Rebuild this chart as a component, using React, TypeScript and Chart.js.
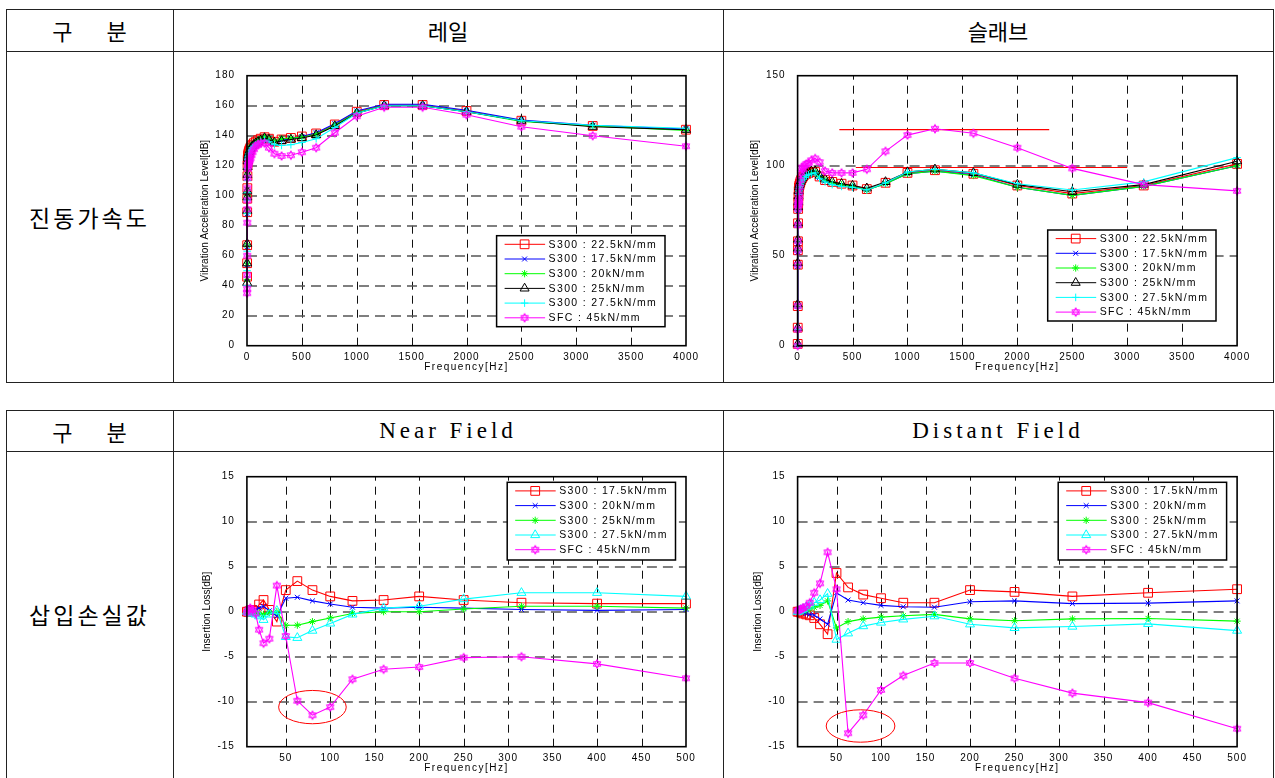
import React, { useEffect, useRef } from 'react';
import { Chart, registerables } from 'chart.js';

Chart.register(...registerables);

// ---------------- data ----------------
const freqTop = [1, 1.25, 1.6, 2, 2.5, 3.15, 4, 5, 6.3, 8, 10, 12.5, 16, 20, 25, 31.5, 40, 50, 63, 80, 100, 125, 160, 200, 250, 315, 400, 500, 630, 800, 1000, 1250, 1600, 2000, 2500, 3150, 4000];

const topLabels = ['S300 : 22.5kN/mm', 'S300 : 17.5kN/mm', 'S300 : 20kN/mm', 'S300 : 25kN/mm', 'S300 : 27.5kN/mm', 'SFC : 45kN/mm'];

// 레일 (rail) vibration acceleration level [dB]
const railS300_225 = [46, 55, 67, 89, 98, 105, 113, 120, 124, 126, 127, 128, 129, 130, 131, 132, 133, 134, 135, 136, 137, 138, 139, 138, 136, 137.5, 138.5, 139.5, 141.5, 147.5, 156, 160.5, 160.5, 156.5, 150, 146.5, 144];
const railS300_175 = [45, 54, 66, 88, 99, 104, 112, 121, 125, 126, 127, 128, 129, 130, 131, 132, 133, 134, 135, 136, 137, 138, 139, 138, 136, 137, 138, 139.5, 142, 148, 156.5, 161, 161, 157, 150.5, 147, 144.5];
const railS300_20 = [44, 55, 67, 90, 100, 104, 114, 120, 124, 126, 127, 128, 129, 130, 131, 132, 133, 134, 135, 136, 137, 138, 139, 138, 136, 138, 138.5, 139, 141, 147, 155.5, 160, 160, 156, 149.5, 146.5, 143.5];
const railS300_25 = [42, 55, 68, 90, 99, 103, 114, 119, 123, 125, 126, 127, 128, 129, 130, 131, 132, 133, 134, 135, 136, 137, 138.5, 137.5, 135.5, 136.5, 137.5, 138.5, 140.5, 146.5, 155, 160, 160, 156, 150, 146, 144];
const railS300_275 = [40, 50, 63, 88, 97, 102, 110, 118, 122, 124, 125, 126, 127, 128, 129, 130, 131, 132, 133, 134, 135, 136, 137, 136, 134, 133.5, 134, 135.5, 138, 145.5, 155, 160, 160, 156, 150, 147, 145];
const railSFC_45 = [35, 38, 47, 60, 82, 91, 97, 105, 112, 118, 120, 121, 122, 123, 124, 125, 127, 129, 131, 133, 134, 135, 135, 132, 128, 126.5, 127, 129, 132, 142, 153, 159, 159, 154, 146, 140, 133];

// 슬래브 (slab) vibration acceleration level [dB]
const slabS300_225 = [1, 10, 22, 45, 53, 58, 68, 76, 80, 83, 86, 88, 89, 90, 91, 92, 93, 94, 95, 95.5, 96, 96.5, 96.5, 94, 92, 91, 90, 89, 87, 90.5, 96, 97.5, 95.5, 89, 84.5, 89, 101];
const slabS300_175 = [0.5, 9, 22, 44, 52, 57, 67, 75, 79, 82, 85, 87, 88, 89, 90, 91, 92, 93, 94, 95, 95.5, 96, 96, 93.5, 91.5, 90.5, 89.5, 88.5, 86.5, 90, 95.5, 97, 95, 88, 83.5, 88.5, 100];
const slabS300_20 = [0.5, 9, 22, 45, 53, 58, 67, 76, 80, 82, 85, 87, 88, 89, 90, 91, 92, 93, 94, 95, 95.5, 96, 96.5, 94, 92, 90.5, 89.5, 88.5, 86.5, 90, 95.5, 97, 94.5, 88, 83.5, 88.5, 100];
const slabS300_25 = [1, 10, 23, 46, 54, 59, 68, 77, 80, 83, 86, 88, 89, 90, 91, 92, 93, 94, 95, 96, 96.5, 97, 97, 94.5, 92.5, 91, 90, 89, 87.5, 91, 96.5, 98, 96, 89.5, 85.5, 89.5, 102.5];
const slabS300_275 = [0.5, 9, 21, 44, 52, 57, 66, 75, 78, 81, 84, 86, 87.5, 88.5, 89.5, 90.5, 91.5, 92.5, 93.5, 94.5, 95, 95.5, 96, 93, 91, 89.5, 88.5, 88, 86.5, 90.5, 96.5, 98, 96, 90, 86.5, 91, 104.5];
const slabSFC_45 = [0, 9, 22, 45, 53, 58, 67, 76, 78, 79, 80, 81, 84, 88, 92, 96, 99, 98, 100, 101, 101.5, 103, 104, 102, 97, 96, 96, 96, 98, 108, 117, 120.5, 118, 110, 98.5, 89.5, 86];

// red reference lines on the slab chart: [x1, x2] at level y
const slabRefLineHighX = [380, 2290];
const slabRefLineHighY = 120;
const slabRefLineLowX = [530, 3000];
const slabRefLineLowY = 99;

const freqBot = [6.3, 8, 10, 12.5, 16, 20, 25, 31.5, 40, 50, 63, 80, 100, 125, 160, 200, 250, 315, 400, 500];
const botLabels = ['S300 : 17.5kN/mm', 'S300 : 20kN/mm', 'S300 : 25kN/mm', 'S300 : 27.5kN/mm', 'SFC : 45kN/mm'];

// Near Field insertion loss [dB]
const nearS300_175 = [0, 0, 0.1, 0.2, 0.1, 0.8, 1.3, 0.2, -1.1, 2.4, 3.4, 2.4, 1.7, 1.2, 1.3, 1.7, 1.3, 1.0, 0.9, 0.9];
const nearS300_20 = [0, 0, 0.1, 0.1, 0.2, 0.4, 0.6, 0.1, -0.5, 1.5, 1.6, 1.2, 0.85, 0.5, 0.4, 0.5, 0.4, 0.25, 0.15, 0.25];
const nearS300_25 = [0, 0, 0, -0.1, -0.1, -0.2, -0.3, -0.1, 0, -1.5, -1.5, -1.1, -0.7, -0.2, 0, 0, 0.3, 0.6, 0.6, 0.4];
const nearS300_275 = [0, -0.1, -0.1, -0.2, -0.3, -0.5, -0.9, -0.3, 0.1, -2.8, -2.9, -2.1, -1.3, -0.3, 0.4, 0.6, 1.4, 2.1, 2.1, 1.7];
const nearSFC_45 = [-0.1, 0.2, 0.4, 0.2, -0.2, -2.0, -3.5, -3.0, 2.9, -2.7, -9.9, -11.5, -10.6, -7.5, -6.4, -6.15, -5.1, -5.0, -5.8, -7.4];
const nearCircle = { x: 80, y: -10.6, rx: 38, ry: 1.85 };

// Distant Field insertion loss [dB]
const farS300_175 = [0, 0, -0.1, -0.2, -0.3, -0.4, -0.7, -1.4, -2.5, 4.3, 2.7, 1.9, 1.5, 1.0, 1.0, 2.4, 2.2, 1.7, 2.1, 2.5];
const farS300_20 = [0, 0, -0.05, -0.1, -0.2, -0.3, -0.4, -0.8, -1.4, 2.1, 1.3, 1.0, 0.7, 0.55, 0.5, 1.1, 1.2, 0.9, 0.95, 1.2];
const farS300_25 = [0, 0, 0.05, 0.1, 0.2, 0.3, 0.5, 0.7, 1.2, -1.8, -1.1, -0.8, -0.6, -0.45, -0.3, -0.8, -1.0, -0.8, -0.75, -1.05];
const farS300_275 = [0, 0.1, 0.2, 0.3, 0.5, 0.7, 1.0, 1.3, 2.0, -3.1, -2.4, -1.6, -1.2, -0.85, -0.5, -1.4, -1.8, -1.65, -1.35, -2.1];
const farSFC_45 = [0.1, 0.2, 0.3, 0.4, 0.6, 1.0, 2.1, 3.15, 6.6, 2.5, -13.5, -11.5, -8.7, -7.1, -5.7, -5.7, -7.4, -9.05, -10.1, -13.0];
const farCircle = { x: 77, y: -12.7, rx: 38.6, ry: 1.8 };

const xTicksTop = [0, 500, 1000, 1500, 2000, 2500, 3000, 3500, 4000];
const yTicksRail = [0, 20, 40, 60, 80, 100, 120, 140, 160, 180];
const yTicksSlab = [0, 50, 100, 150];
const xTicksBot = [50, 100, 150, 200, 250, 300, 350, 400, 450, 500];
const yTicksBot = [-15, -10, -5, 0, 5, 10, 15];

// ---------------- styles ----------------
const FONT = '"Liberation Sans", Arial, sans-serif';
const RED = '#ff0000', BLUE = '#0000ff', GREEN = '#00ff00', BLACK = '#000000', CYAN = '#00ffff', MAGENTA = '#ff00ff';
const topStyles = [
  { color: RED, marker: 'rect' },
  { color: BLUE, marker: 'crossRot' },
  { color: GREEN, marker: 'star' },
  { color: BLACK, marker: 'triangle' },
  { color: CYAN, marker: 'cross' },
  { color: MAGENTA, marker: 'hex' },
];
const botStyles = [
  { color: RED, marker: 'rect' },
  { color: BLUE, marker: 'crossRot' },
  { color: GREEN, marker: 'star' },
  { color: CYAN, marker: 'triangle' },
  { color: MAGENTA, marker: 'hex' },
];
const markerRadius: Record<string, number> = { rect: 6.2, triangle: 5.2, crossRot: 3.5, cross: 3.8, star: 3.6, hex: 4.4 };

function makeHex(color: string, r: number) {
  const c = document.createElement('canvas');
  const s = Math.ceil(r * 2 + 3);
  c.width = s;
  c.height = s;
  const g = c.getContext('2d')!;
  g.strokeStyle = color;
  g.lineWidth = 1;
  const cx = s / 2, cy = s / 2;
  for (const off of [-90, 90]) {
    g.beginPath();
    for (let k = 0; k < 3; k++) {
      const a = ((off + k * 120) * Math.PI) / 180;
      const x = cx + r * Math.cos(a), y = cy + r * Math.sin(a);
      if (k) g.lineTo(x, y); else g.moveTo(x, y);
    }
    g.closePath();
    g.stroke();
  }
  return c;
}

function drawMarker(ctx: CanvasRenderingContext2D, m: string, x: number, y: number, color: string, hex: HTMLCanvasElement) {
  ctx.save();
  ctx.strokeStyle = color;
  ctx.lineWidth = 1;
  ctx.setLineDash([]);
  if (m === 'hex') {
    ctx.drawImage(hex, x - hex.width / 2, y - hex.height / 2);
    ctx.restore();
    return;
  }
  const r = markerRadius[m];
  ctx.beginPath();
  if (m === 'rect') {
    const h = r * Math.SQRT1_2;
    ctx.rect(x - h, y - h, 2 * h, 2 * h);
  } else if (m === 'triangle') {
    let rad = 0;
    for (let k = 0; k < 3; k++) {
      const px = x + Math.sin(rad) * r, py = y - Math.cos(rad) * r;
      if (k) ctx.lineTo(px, py); else ctx.moveTo(px, py);
      rad += (2 * Math.PI) / 3;
    }
    ctx.closePath();
  } else {
    const cross = () => { ctx.moveTo(x - r, y); ctx.lineTo(x + r, y); ctx.moveTo(x, y - r); ctx.lineTo(x, y + r); };
    const crossRot = () => { const d = r * Math.SQRT1_2; ctx.moveTo(x - d, y - d); ctx.lineTo(x + d, y + d); ctx.moveTo(x + d, y - d); ctx.lineTo(x - d, y + d); };
    if (m === 'cross') cross();
    if (m === 'crossRot') crossRot();
    if (m === 'star') { cross(); crossRot(); }
  }
  ctx.stroke();
  ctx.restore();
}

type Spec = {
  freqs: number[];
  series: number[][];
  labels: string[];
  styles: { color: string; marker: string }[];
  xMin: number; xMax: number; xTicks: number[];
  yMin: number; yMax: number; yTicks: number[];
  pad: { top: number; right: number };
  yAxisW: number; xAxisH: number;
  legend: { x: number; y: number; w: number; h: number };
  yTitle: string; yTitleOff: number;
  circle?: { x: number; y: number; rx: number; ry: number };
  refLines?: { xs: number[]; y: number }[];
};

function buildConfig(spec: Spec): any {
  const hex = makeHex(MAGENTA, 4.4);
  const n = spec.series.length;
  const datasets: any[] = spec.series.map((vals, i) => {
    const st = spec.styles[i];
    return {
      label: spec.labels[i],
      data: spec.freqs.map((f, k) => ({ x: f, y: vals[k] })),
      borderColor: st.color,
      backgroundColor: 'rgba(0,0,0,0)',
      borderWidth: 1.1,
      pointStyle: st.marker === 'hex' ? hex : st.marker,
      pointRadius: markerRadius[st.marker],
      pointHoverRadius: markerRadius[st.marker],
      pointBorderColor: st.color,
      pointBackgroundColor: 'rgba(0,0,0,0)',
      pointBorderWidth: 1,
      tension: 0,
      fill: false,
      clip: false,
      order: n - i,
    };
  });
  (spec.refLines || []).forEach((l, i) => {
    datasets.push({
      label: 'ref' + i,
      data: l.xs.map((x) => ({ x, y: l.y })),
      borderColor: RED,
      borderWidth: 1.2,
      pointRadius: 0,
      fill: false,
      clip: false,
      order: n + 5,
    });
  });

  const tickFont = { family: FONT, size: 10 };
  const plugin = {
    id: 'deco',
    beforeDraw(chart: any) {
      chart.ctx.letterSpacing = '1px';
    },
    beforeDatasetsDraw(chart: any) {
      const { ctx, chartArea: a } = chart;
      const xs = chart.scales.x, ys = chart.scales.y;
      ctx.save();
      ctx.letterSpacing = '0px';
      ctx.setLineDash([8, 6]);
      ctx.lineWidth = 1;
      ctx.strokeStyle = '#111';
      for (const v of spec.xTicks) {
        const px = Math.round(xs.getPixelForValue(v)) + 0.5;
        if (px < a.left + 3 || px > a.right - 3) continue;
        ctx.beginPath();
        ctx.moveTo(px, a.bottom);
        ctx.lineTo(px, a.top);
        ctx.stroke();
      }
      ctx.setLineDash([10, 6]);
      ctx.lineWidth = 1.4;
      ctx.strokeStyle = '#555';
      for (const v of spec.yTicks) {
        const py = Math.round(ys.getPixelForValue(v));
        if (py < a.top + 3 || py > a.bottom - 3) continue;
        ctx.beginPath();
        ctx.moveTo(a.left, py);
        ctx.lineTo(a.right, py);
        ctx.stroke();
      }
      ctx.restore();
    },
    afterDatasetsDraw(chart: any) {
      const { ctx, chartArea: a } = chart;
      const xs = chart.scales.x, ys = chart.scales.y;
      ctx.save();
      ctx.setLineDash([]);
      if (spec.circle) {
        const c = spec.circle;
        const cx = xs.getPixelForValue(c.x), cy = ys.getPixelForValue(c.y);
        const rx = Math.abs(xs.getPixelForValue(c.x + c.rx) - cx);
        const ry = Math.abs(ys.getPixelForValue(c.y + c.ry) - cy);
        ctx.strokeStyle = RED;
        ctx.lineWidth = 1;
        ctx.beginPath();
        ctx.ellipse(cx, cy, rx, ry, 0, 0, Math.PI * 2);
        ctx.stroke();
      }
      ctx.strokeStyle = '#000';
      ctx.lineWidth = 1.6;
      ctx.strokeRect(a.left, a.top, a.right - a.left, a.bottom - a.top);
      ctx.restore();
    },
    afterDraw(chart: any) {
      const { ctx, chartArea: a } = chart;
      ctx.save();
      ctx.setLineDash([]);
      // legend
      const L = spec.legend;
      ctx.fillStyle = '#fff';
      ctx.fillRect(L.x, L.y, L.w, L.h);
      ctx.strokeStyle = '#000';
      ctx.lineWidth = 1.5;
      ctx.strokeRect(L.x, L.y, L.w, L.h);
      ctx.font = `10.5px ${FONT}`;
      ctx.letterSpacing = '1.35px';
      ctx.textBaseline = 'middle';
      ctx.textAlign = 'left';
      spec.labels.forEach((lab, i) => {
        const st = spec.styles[i];
        const y = L.y + 8.6 + i * 14.7;
        ctx.strokeStyle = st.color;
        ctx.lineWidth = 1;
        ctx.beginPath();
        ctx.moveTo(L.x + 8, y);
        ctx.lineTo(L.x + 48.5, y);
        ctx.stroke();
        drawMarker(ctx, st.marker, L.x + 28, y, st.color, hex);
        ctx.fillStyle = '#000';
        ctx.fillText(lab, L.x + 52, y + 0.5);
      });
      // axis titles
      ctx.fillStyle = '#000';
      ctx.textAlign = 'center';
      ctx.font = `10px ${FONT}`;
      ctx.letterSpacing = '1.5px';
      ctx.fillText('Frequency[Hz]', (a.left + a.right) / 2, a.bottom + 21.5);
      ctx.letterSpacing = '0px';
      ctx.font = `10px ${FONT}`;
      ctx.translate(a.left - spec.yTitleOff, (a.top + a.bottom) / 2);
      ctx.rotate(-Math.PI / 2);
      ctx.fillText(spec.yTitle, 0, 0);
      ctx.restore();
    },
  };

  return {
    type: 'line',
    data: { datasets },
    options: {
      responsive: false,
      maintainAspectRatio: false,
      animation: false,
      events: [],
      layout: { padding: { left: 0, top: spec.pad.top, right: spec.pad.right, bottom: 0 } },
      plugins: { legend: { display: false }, tooltip: { enabled: false } },
      scales: {
        x: {
          type: 'linear',
          min: spec.xMin,
          max: spec.xMax,
          afterBuildTicks: (sc: any) => { sc.ticks = spec.xTicks.map((v) => ({ value: v })); },
          afterFit: (sc: any) => { sc.height = spec.xAxisH; },
          grid: { display: false },
          border: { display: false },
          ticks: { font: tickFont, color: '#000', padding: -2.8, maxRotation: 0, autoSkip: false, callback: (v: any) => String(v) },
        },
        y: {
          type: 'linear',
          min: spec.yMin,
          max: spec.yMax,
          afterBuildTicks: (sc: any) => { sc.ticks = spec.yTicks.map((v) => ({ value: v })); },
          afterFit: (sc: any) => { sc.width = spec.yAxisW; },
          grid: { display: false },
          border: { display: false },
          ticks: { font: tickFont, color: '#000', padding: 4, autoSkip: false, callback: (v: any) => String(v) },
        },
      },
    },
    plugins: [plugin],
  };
}

function ChartPanel({ left, top, width, height, spec }: { left: number; top: number; width: number; height: number; spec: Spec }) {
  const ref = useRef<HTMLCanvasElement>(null);
  useEffect(() => {
    const chart = new Chart(ref.current!, buildConfig(spec));
    return () => chart.destroy();
  }, []);
  return <canvas ref={ref} width={width} height={height} style={{ position: 'absolute', left, top, width, height }} />;
}

const railSpec: Spec = {
  freqs: freqTop,
  series: [railS300_225, railS300_175, railS300_20, railS300_25, railS300_275, railSFC_45],
  labels: topLabels,
  styles: topStyles,
  xMin: 0, xMax: 4000, xTicks: xTicksTop,
  yMin: 0, yMax: 180, yTicks: yTicksRail,
  pad: { top: 23.7, right: 36 },
  yAxisW: 73, xAxisH: 36.3,
  legend: { x: 322.6, y: 183.7, w: 168.4, h: 91 },
  yTitle: 'Vibration Acceleration Level[dB]', yTitleOff: 42,
};

const slabSpec: Spec = {
  freqs: freqTop,
  series: [slabS300_225, slabS300_175, slabS300_20, slabS300_25, slabS300_275, slabSFC_45],
  labels: topLabels,
  styles: topStyles,
  xMin: 0, xMax: 4000, xTicks: xTicksTop,
  yMin: 0, yMax: 150, yTicks: yTicksSlab,
  pad: { top: 23.7, right: 34.9 },
  yAxisW: 73.6, xAxisH: 36.3,
  legend: { x: 323.7, y: 178, w: 168.3, h: 91 },
  yTitle: 'Vibration Acceleration Level[dB]', yTitleOff: 42,
  refLines: [
    { xs: slabRefLineHighX, y: slabRefLineHighY },
    { xs: slabRefLineLowX, y: slabRefLineLowY },
  ],
};

const nearSpec: Spec = {
  freqs: freqBot,
  series: [nearS300_175, nearS300_20, nearS300_25, nearS300_275, nearSFC_45],
  labels: botLabels,
  styles: botStyles,
  xMin: 6.3, xMax: 500, xTicks: xTicksBot,
  yMin: -15, yMax: 15, yTicks: yTicksBot,
  pad: { top: 24.7, right: 36 },
  yAxisW: 72.9, xAxisH: 31.3,
  legend: { x: 333.2, y: 30.3, w: 168.3, h: 77.7 },
  yTitle: 'Insertion Loss[dB]', yTitleOff: 39.5,
  circle: nearCircle,
};

const farSpec: Spec = {
  freqs: freqBot,
  series: [farS300_175, farS300_20, farS300_25, farS300_275, farSFC_45],
  labels: botLabels,
  styles: botStyles,
  xMin: 6.3, xMax: 500, xTicks: xTicksBot,
  yMin: -15, yMax: 15, yTicks: yTicksBot,
  pad: { top: 24.7, right: 34.9 },
  yAxisW: 73.6, xAxisH: 31.3,
  legend: { x: 334.2, y: 30.3, w: 168.4, h: 77.7 },
  yTitle: 'Insertion Loss[dB]', yTitleOff: 39.5,
  circle: farCircle,
};

const LINE = '#222';
const KR = '"Noto Sans CJK KR", "Noto Sans CJK SC", sans-serif';
const SERIF = '"Liberation Serif", "DejaVu Serif", serif';

function H({ x1, x2, y }: { x1: number; x2: number; y: number }) {
  return <div style={{ position: 'absolute', left: x1, top: y, width: x2 - x1, height: 1, background: LINE }} />;
}
function V({ x, y1, y2 }: { x: number; y1: number; y2: number }) {
  return <div style={{ position: 'absolute', left: x, top: y1, width: 1, height: y2 - y1, background: LINE }} />;
}
function Cell({ x1, x2, y1, y2, children, style }: any) {
  return (
    <div style={{ position: 'absolute', left: x1, top: y1, width: x2 - x1, height: y2 - y1, display: 'flex', alignItems: 'center', justifyContent: 'center', whiteSpace: 'pre', color: '#000', ...style }}>
      {children}
    </div>
  );
}

function GuBun() {
  return (
    <div style={{ display: 'flex', gap: 34, fontFamily: KR, fontSize: 22 }}>
      <span>구</span>
      <span>분</span>
    </div>
  );
}

export default function App() {
  const L = 6, C1 = 173, C2 = 723, R = 1273;
  return (
    <div style={{ position: 'absolute', left: 0, top: 0, width: 1275, height: 778, background: '#fff', overflow: 'hidden' }}>
      {/* table 1 */}
      <H x1={L} x2={R + 1} y={9} />
      <H x1={L} x2={R + 1} y={51} />
      <H x1={L} x2={R + 1} y={382} />
      <V x={L} y1={9} y2={383} />
      <V x={C1} y1={9} y2={383} />
      <V x={C2} y1={9} y2={383} />
      <V x={R} y1={9} y2={383} />
      <Cell x1={L} x2={C1} y1={9} y2={51}><GuBun /></Cell>
      <Cell x1={C1} x2={C2} y1={9} y2={51} style={{ fontFamily: KR, fontSize: 22 }}>레일</Cell>
      <Cell x1={C2} x2={R} y1={9} y2={51} style={{ fontFamily: KR, fontSize: 22 }}>슬래브</Cell>
      <Cell x1={L} x2={C1} y1={51} y2={383} style={{ fontFamily: KR, fontSize: 23, letterSpacing: 3 }}>진동가속도</Cell>

      {/* table 2 */}
      <H x1={L} x2={R + 1} y={410} />
      <H x1={L} x2={R + 1} y={451} />
      <V x={L} y1={410} y2={778} />
      <V x={C1} y1={410} y2={778} />
      <V x={C2} y1={410} y2={778} />
      <V x={R} y1={410} y2={778} />
      <Cell x1={L} x2={C1} y1={410} y2={451}><GuBun /></Cell>
      <Cell x1={C1} x2={C2} y1={410} y2={451} style={{ fontFamily: SERIF, fontSize: 23, letterSpacing: 4 }}>Near Field</Cell>
      <Cell x1={C2} x2={R} y1={410} y2={451} style={{ fontFamily: SERIF, fontSize: 23, letterSpacing: 4 }}>Distant Field</Cell>
      <Cell x1={L} x2={C1} y1={451} y2={777} style={{ fontFamily: KR, fontSize: 23, letterSpacing: 3 }}>삽입손실값</Cell>

      <ChartPanel left={174} top={52} width={548} height={330} spec={railSpec} />
      <ChartPanel left={724} top={52} width={548} height={330} spec={slabSpec} />
      <ChartPanel left={174} top={452} width={548} height={326} spec={nearSpec} />
      <ChartPanel left={724} top={452} width={548} height={326} spec={farSpec} />
    </div>
  );
}
